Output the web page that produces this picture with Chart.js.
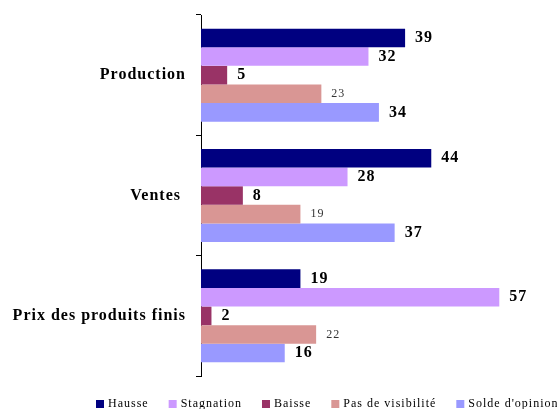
<!DOCTYPE html>
<html lang="fr">
<head>
    <meta charset="UTF-8">
    <title>Opinion des chefs d'entreprise</title>
    <script src="https://cdn.jsdelivr.net/npm/chart.js"></script>
    <style>
        body { margin: 0; background: #fff; }
        #wrap { width: 557px; height: 409px; position: relative; }
    </style>
</head>
<body>
    <div id="wrap"><canvas id="opinionChart"></canvas></div>

    <script>
        // categories and series
        const categories = ["Production", "Ventes ", "Prix des produits finis"];
        const seriesNames = ["Hausse", "Stagnation", "Baisse", "Pas de visibilité", "Solde d'opinion"];
        const hausse = [39, 44, 19];
        const stagnation = [32, 28, 57];
        const baisse = [5, 8, 2];
        const pasVisibilite = [23, 19, 22];
        const solde = [34, 37, 16];

        const seriesValues = [hausse, stagnation, baisse, pasVisibilite, solde];
        const colors = ["#000080", "#CC99FF", "#993366", "#D99694", "#9999FF"];
        const serif = "'Liberation Serif', 'DejaVu Serif', serif";

        // the original font is a wide garamond-like face, so space the letters a bit
        const spacing = {
            id: "spacing",
            beforeDraw(chart) { chart.ctx.letterSpacing = "1px"; },
            afterDraw(chart) { chart.ctx.letterSpacing = "0px"; }
        };

        // value labels right of each bar
        const valueLabels = {
            id: "valueLabels",
            afterDatasetsDraw(chart) {
                const ctx = chart.ctx;
                ctx.save();
                ctx.textBaseline = "middle";
                ctx.textAlign = "left";
                chart.data.datasets.forEach((ds, i) => {
                    const meta = chart.getDatasetMeta(i);
                    const plain = i === 3;
                    ctx.font = (plain ? "normal 12px " : "bold 16px ") + serif;
                    ctx.fillStyle = plain ? "#333" : "#000";
                    meta.data.forEach((bar, j) => {
                        ctx.fillText(ds.data[j], bar.x + 10, bar.y);
                    });
                });
                ctx.restore();
            }
        };

        // legend along the bottom (runs off the right edge like the original)
        const bottomLegend = {
            id: "bottomLegend",
            afterDraw(chart) {
                const ctx = chart.ctx;
                ctx.save();
                ctx.letterSpacing = "1px";
                ctx.font = "12px " + serif;
                ctx.textBaseline = "middle";
                let x = 96;
                const y = 404;
                chart.data.datasets.forEach(ds => {
                    ctx.fillStyle = ds.backgroundColor;
                    ctx.fillRect(x, y - 4, 8, 8);
                    ctx.fillStyle = "#000";
                    ctx.fillText(ds.label, x + 12, y);
                    x += 12 + ctx.measureText(ds.label).width + 20;
                });
                ctx.restore();
            }
        };

        const ctx = document.getElementById("opinionChart").getContext("2d");
        new Chart(ctx, {
            type: "bar",
            data: {
                labels: categories,
                datasets: seriesNames.map((name, i) => ({
                    label: name,
                    data: seriesValues[i],
                    backgroundColor: colors[i],
                    borderWidth: 0,
                    barPercentage: 1,
                    categoryPercentage: 0.773
                }))
            },
            options: {
                indexAxis: "y",
                responsive: true,
                maintainAspectRatio: false,
                animation: false,
                layout: { padding: { top: 15, bottom: 33, right: 42, left: 0 } },
                plugins: {
                    legend: { display: false },
                    tooltip: { enabled: false }
                },
                scales: {
                    x: { min: 0, max: 60, display: false },
                    y: {
                        afterFit: (scale) => {
                            scale.width = 201;
                            scale.paddingTop = 0;
                            scale.paddingBottom = 0;
                        },
                        border: { color: "#000", width: 1 },
                        grid: { drawOnChartArea: false, color: "#000", tickLength: 5 },
                        ticks: {
                            color: "#000",
                            padding: 10,
                            font: { family: serif, size: 16, weight: "bold" }
                        }
                    }
                }
            },
            plugins: [spacing, valueLabels, bottomLegend]
        });
    </script>
</body>
</html>
